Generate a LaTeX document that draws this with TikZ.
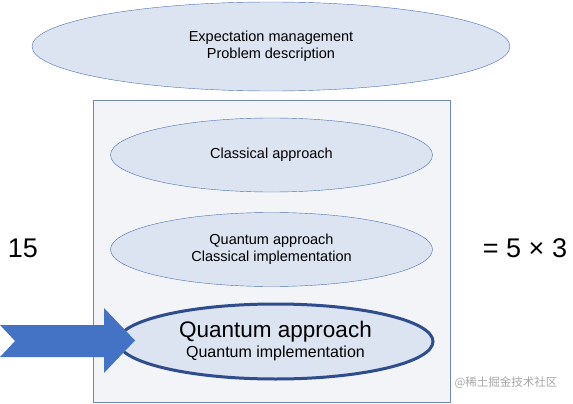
\documentclass[tikz,border=0pt]{standalone}
\usepackage{fontspec}
\setmainfont{Liberation Sans}
\newfontfamily\cjk{Noto Sans CJK SC}
\usepackage{xcolor}
\usetikzlibrary{shapes.geometric}
\definecolor{ovalfill}{HTML}{DCE3F1}
\definecolor{ovalline}{HTML}{4F6FAE}
\definecolor{boxfill}{HTML}{F2F4F8}
\definecolor{boxline}{HTML}{7088B8}
\definecolor{darkline}{HTML}{2F4C8C}
\definecolor{arrowblue}{HTML}{4472C4}

\begin{document}
\begin{tikzpicture}[x=1pt, y=-1pt,
  oval/.style={ellipse, draw=ovalline, fill=ovalfill, inner sep=0pt,
    align=center, font=\fontsize{14.5}{17}\selectfont},
  bignum/.style={font=\fontsize{27}{30}\selectfont}]
  \useasboundingbox (0,0) rectangle (573,404);
  % top oval
  \node[oval, minimum width=478pt, minimum height=89pt] (expect) at (271,46.5)
    {Expectation management\\Problem description};
  % frame around the approaches
  \draw[boxline, fill=boxfill] (93,100) rectangle (450,402);
  % the three approaches
  \node[oval, minimum width=322pt, minimum height=74pt] (classical) at (271.5,155)
    {Classical approach};
  \node[oval, minimum width=322pt, minimum height=74pt] (qclassical) at (271.5,249.5)
    {Quantum approach\\Classical implementation};
  \node[oval, draw=darkline, line width=3pt, minimum width=315pt, minimum height=75pt,
    font=\fontsize{16}{20}\selectfont] (quantum) at (275.5,341.5)
    {{\fontsize{22.5}{24}\selectfont Quantum approach}\\Quantum implementation};
  % big arrow pointing at the quantum approach
  \fill[arrowblue] (0,325) -- (104,325) -- (104,308) -- (135,340.5) -- (104,373)
    -- (104,357) -- (0,357) -- (15,341) -- cycle;
  % numbers either side
  \node[bignum] (fifteen) at (23,248) {15};
  \node[bignum] (factors) at (525,248) {= 5 × 3};
  \node[text=gray!70, font=\cjk\fontsize{11.5}{13}\selectfont] (mark) at (506,383)
    {@稀土掘金技术社区};
\end{tikzpicture}
\end{document}
